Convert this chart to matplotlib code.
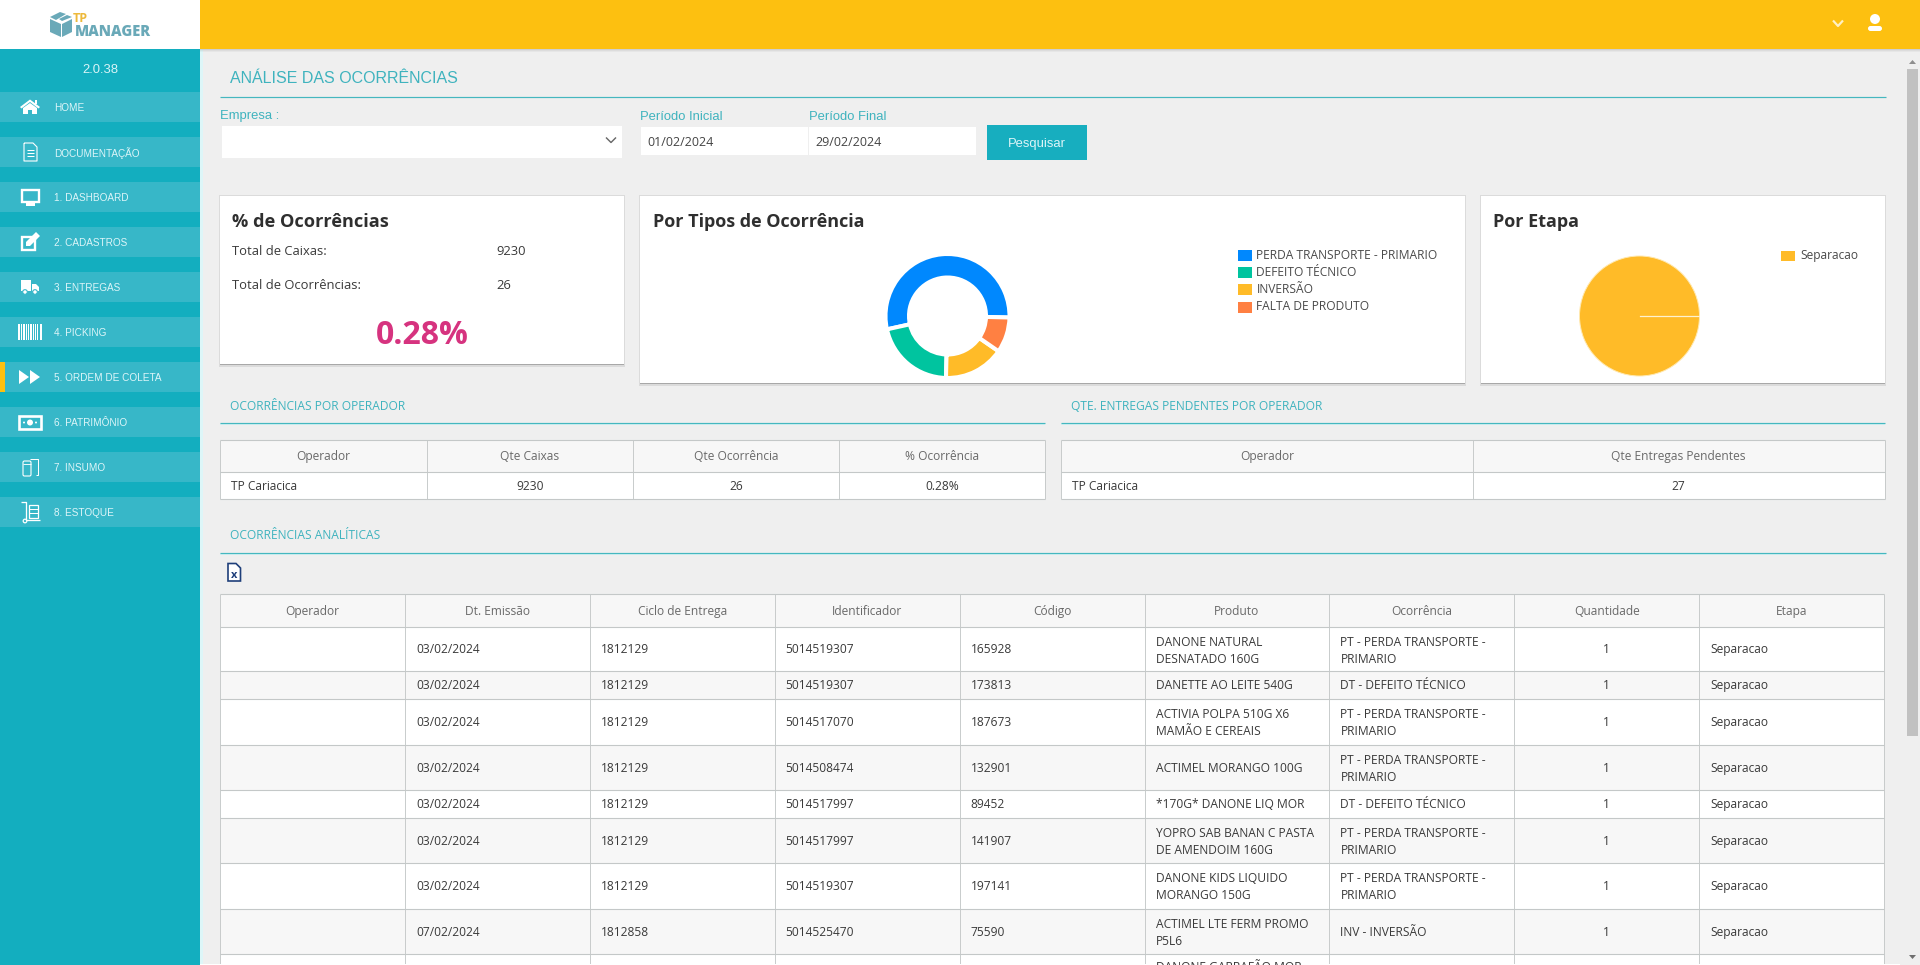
import matplotlib
matplotlib.use("Agg")
import matplotlib.pyplot as plt
from matplotlib.patches import Rectangle, Polygon, Circle, FancyBboxPatch

# ---------- data ----------
app_version = "2.0.38"
menu_labels = ["HOME", "DOCUMENTAÇÃO", "1. DASHBOARD", "2. CADASTROS", "3. ENTREGAS", "4. PICKING",
               "5. ORDEM DE COLETA", "6. PATRIMÔNIO", "7. INSUMO", "8. ESTOQUE"]
occ_types = ["PERDA TRANSPORTE - PRIMARIO", "DEFEITO TÉCNICO", "INVERSÃO", "FALTA DE PRODUTO"]
occ_values = [14, 5.5, 4.1, 2.4]
occ_colors = ["#0088FE", "#00C49F", "#FFBB28", "#FF8042"]
stage_labels = ["Separacao"]
stage_values = [26]
stage_colors = ["#FFBB28"]
total_boxes = "9230"
total_occ = "26"
pct_occ = "0.28%"
op_headers = ["Operador", "Qte Caixas", "Qte Ocorrência", "% Ocorrência"]
op_row = ["TP Cariacica", "9230", "26", "0.28%"]
pend_headers = ["Operador", "Qte Entregas Pendentes"]
pend_row = ["TP Cariacica", "27"]
an_headers = ["Operador", "Dt. Emissão", "Ciclo de Entrega", "Identificador", "Código", "Produto",
              "Ocorrência", "Quantidade", "Etapa"]
an_dates = ["03/02/2024"] * 7 + ["07/02/2024", ""]
an_cycles = ["1812129"] * 7 + ["1812858", ""]
an_ids = ["5014519307", "5014519307", "5014517070", "5014508474", "5014517997", "5014517997",
          "5014519307", "5014525470", ""]
an_codes = ["165928", "173813", "187673", "132901", "89452", "141907", "197141", "75590", ""]
an_products = ["DANONE NATURAL\nDESNATADO 160G", "DANETTE AO LEITE 540G", "ACTIVIA POLPA 510G X6\nMAMÃO E CEREAIS",
               "ACTIMEL MORANGO 100G", "*170G* DANONE LIQ MOR", "YOPRO SAB BANAN C PASTA\nDE AMENDOIM 160G",
               "DANONE KIDS LIQUIDO\nMORANGO 150G", "ACTIMEL LTE FERM PROMO\nP5L6", "DANONE GARRAFÃO MOR\n"]
PT = "PT - PERDA TRANSPORTE -\nPRIMARIO"
DT = "DT - DEFEITO TÉCNICO"
an_occ = [PT, DT, PT, PT, DT, PT, PT, "INV - INVERSÃO", ""]
an_qty = ["1"] * 8 + [""]
an_stage = ["Separacao"] * 8 + [""]

# ---------- style ----------
BG = "#EFEFEF"; YEL = "#FDC010"; SIDE = "#13AEBF"; BAND = "#37B7C8"; TEAL = "#3FB3BE"
LINE = "#C4C8C8"; HEAD = "#F7F7F7"; TXT = "#3A3A3A"; HTXT = "#6A6A6A"
OS = "Open Sans"; LS = "Liberation Sans"
px = lambda v: v * 0.72

fig = plt.figure(figsize=(19.2, 9.65), dpi=100, facecolor=BG)
ax = fig.add_axes([0, 0, 1, 1])
ax.set_xlim(0, 1920); ax.set_ylim(965, 0); ax.axis("off")

def rect(x0, y0, x1, y1, c, z=1, **k):
    ax.add_patch(Rectangle((x0, y0), x1 - x0, y1 - y0, fc=c, ec="none", zorder=z, **k))

def t(x, y, s, size, color=TXT, fam=OS, ha="left", w="normal", z=6):
    if size == 12 and fam == OS:
        y -= 0.9
    ax.text(x, y, s, fontsize=px(size), color=color, family=fam, ha=ha, va="center_baseline",
            fontweight=w, zorder=z)

def ln(xs, ys, c="white", lw=1.0, z=5, **k):
    ax.plot(xs, ys, color=c, lw=lw * 0.72, zorder=z, solid_capstyle=k.pop("cap", "butt"), **k)

def poly(pts, c="white", z=5):
    ax.add_patch(Polygon(pts, closed=True, fc=c, ec="none", zorder=z))

# ---------- frame ----------
rect(200, 49, 203, 965, "#DDF6F8", 2)
for i, a in enumerate([0.30, 0.18, 0.08]):
    rect(200, 49 + i, 1920, 50 + i, "#888888", 3, alpha=a)
rect(200, 0, 1920, 49, YEL, 4)
rect(0, 0, 200, 49, "white", 4)
rect(0, 49, 200, 965, SIDE, 4)

# logo
poly([(50, 19), (61, 24), (61, 37), (50, 32)], "#6AA9B8")
poly([(62, 24), (72, 19), (72, 32), (62, 37)], "#6AA9B8")
poly([(50, 17), (60, 12), (66, 14), (56, 20)], "#6AA9B8")
poly([(62, 21), (59, 19), (67, 15), (72, 17)], "#6AA9B8")
t(73, 17.5, "TP", 12.5, "#EDB93B", OS, w="bold", z=6)
t(75, 30, "MANAGER", 14.6, "#6AA9B8", OS, w="extra bold", z=6)

# menu
t(100, 68.5, app_version, 13, "#D9F4F7", LS, ha="center")
for i, lab in enumerate(menu_labels):
    y0 = 92 + 45 * i
    rect(0, y0, 200, y0 + 30, BAND, 4.5)
    t(54.5, y0 + 15, lab, 10, "#DDF5F8", LS)
rect(0, 362, 5, 392, YEL, 5)

def icon_home(c):
    poly([(20, c), (30, c - 7.5), (40, c), (38.5, c + 1.5), (30, c - 5), (21.5, c + 1.5)])
    poly([(23, c + 1), (30, c - 4), (37, c + 1), (37, c + 7), (32, c + 7), (32, c + 3), (28, c + 3), (28, c + 7), (23, c + 7)])
    rect(35, c - 7, 37, c - 3, "white", 5)

def icon_doc(c):
    ln([24, 33, 37, 37, 24, 24], [c - 9, c - 9, c - 5, c + 9, c + 9, c - 9], lw=1.1)
    for d in (-2, 1, 4):
        ln([27, 34], [c + d, c + d], lw=1)

def icon_monitor(c):
    ax.add_patch(Rectangle((22, c - 7.5), 16.5, 12.5, fc="none", ec="white", lw=1.7, zorder=5))
    rect(26, c + 6, 35, c + 8.5, "white", 5)

def icon_edit(c):
    ax.add_patch(Rectangle((22, c - 5), 13, 13, fc="none", ec="white", lw=1.7, zorder=5))
    poly([(26, c + 4), (26, c), (36, c - 10), (40, c - 6), (30, c + 4)], "white", 6)

def icon_truck(c):
    rect(21, c - 7, 31, c + 4, "white", 5)
    poly([(32, c - 3), (36, c - 3), (39, c), (39, c + 4), (32, c + 4)])
    for x in (25, 35):
        ax.add_patch(Circle((x, c + 5), 2.3, fc="white", ec=BAND, lw=0.8, zorder=6))

def icon_barcode(c):
    for x, w in [(18, 2), (21, 1), (23, 2), (26, 1), (28, 1), (30, 2), (33, 1), (35, 1), (37, 1), (39.5, 2)]:
        rect(x, c - 8, x + w, c + 8, "white", 5)

def icon_play(c):
    poly([(19, c - 7), (29, c), (19, c + 7)])
    poly([(30, c - 7), (40, c), (30, c + 7)])

def icon_money(c):
    ax.add_patch(Rectangle((19, c - 6), 22, 13, fc="none", ec="white", lw=1.9, zorder=5))
    ax.add_patch(Circle((30, c + 0.5), 3, fc="white", ec="none", zorder=5))
    for x in (24, 36):
        ax.add_patch(Circle((x, c + 0.5), 1, fc="white", ec="none", zorder=5))

def icon_insumo(c):
    ax.add_patch(FancyBboxPatch((23, c - 6), 8, 15, boxstyle="round,pad=0,rounding_size=1.5",
                                fc="none", ec="white", lw=0.8, zorder=5))
    ln([30, 38, 38, 36], [c - 8, c - 8, c + 8, c + 8], lw=1)
    ln([23, 31], [c - 3, c - 3], lw=0.9)

def icon_trolley(c):
    ln([21, 26, 26, 40], [c - 10, c - 10, c + 8, c + 8], lw=1.3)
    ax.add_patch(Circle((25, c + 9), 1.8, fc="none", ec="white", lw=0.9, zorder=5))
    ax.add_patch(Rectangle((29, c - 7), 9, 13, fc="none", ec="white", lw=0.9, zorder=5))
    for d in (-3, 1):
        ln([29, 38], [c + d, c + d], lw=1)

for i, f in enumerate([icon_home, icon_doc, icon_monitor, icon_edit, icon_truck, icon_barcode,
                       icon_play, icon_money, icon_insumo, icon_trolley]):
    f(107 + 45 * i)

# top right
ln([1833, 1838, 1843], [20.5, 26, 20.5], "#FFF0C4", 2.2)
ax.add_patch(Circle((1875, 19), 5, fc="white", ec="none", zorder=5))
ax.add_patch(FancyBboxPatch((1868, 26), 14, 5, boxstyle="round,pad=0,rounding_size=2.5", fc="white", ec="none", zorder=5))

# scrollbar
poly([(1909, 64), (1912.5, 60), (1916, 64)], "#8E8E8E")
rect(1907, 69, 1918, 736, "#C1C1C1", 2)
poly([(1909, 955), (1912.5, 959), (1916, 955)], "#6E6E6E")

# ---------- page heading + filters ----------
t(230.5, 77, "ANÁLISE DAS OCORRÊNCIAS", 16, TEAL, LS)
ln([220, 1886], [97, 97], "#45B7BF", 1.2, 2)
t(220.5, 115, "Empresa :", 13, TEAL, LS)
rect(222, 126, 622, 158, "white", 2)
ln([606, 611, 616], [137.5, 142.5, 137.5], "#666666", 1.4)
t(640.5, 115.5, "Período Inicial", 13, TEAL, LS)
t(809, 115.5, "Período Final", 13, TEAL, LS)
rect(640.5, 127, 808, 155, "white", 2)
rect(809, 127, 976, 155, "white", 2)
t(647, 141.5, "01/02/2024", 12.5, "#444444", OS)
t(815, 141.5, "29/02/2024", 12.5, "#444444", OS)
rect(987, 125, 1087, 160, "#17AEBF", 2)
t(1037, 142.5, "Pesquisar", 13, "#DDF5F8", LS, ha="center")

# ---------- cards ----------
def card(x0, y0, x1, y1):
    rect(x0 - 1, y0 - 1, x1 + 1, y1 + 2.5, "#C8C8C8", 1.5, alpha=0.5)
    rect(x0, y1, x1, y1 + 1, "#A8A8A8", 1.6)
    rect(x0, y0, x1, y1, "white", 2)

card(220, 196, 624, 364)
card(640, 196, 1465, 383)
card(1481, 196, 1885, 383)

t(232, 220, "% de Ocorrências", 18.2, "#2F2F2F", OS, w="bold")
t(232, 250, "Total de Caixas:", 13, TXT)
t(496, 250, total_boxes, 13, TXT)
t(232, 284, "Total de Ocorrências:", 13, TXT)
t(496, 284, total_occ, 13, TXT)
t(422, 332, pct_occ, 32, "#D6337F", OS, ha="center", w="bold")

t(653, 220.3, "Por Tipos de Ocorrência", 18, "#2F2F2F", OS, w="bold")
t(1493, 220.3, "Por Etapa", 18, "#2F2F2F", OS, w="bold")

def pixel_axes(cx, cy, r):
    a = fig.add_axes([(cx - r) / 1920, 1 - (cy + r) / 965, 2 * r / 1920, 2 * r / 965])
    a.patch.set_alpha(0)
    a.set_zorder(10)
    return a

a1 = pixel_axes(947.5, 316, 62)
a1.pie(occ_values, colors=occ_colors, startangle=-1.4, counterclock=True, radius=1,
       wedgeprops=dict(width=23.5 / 62, edgecolor="white", linewidth=2.9))
a1.set_xlim(-1, 1); a1.set_ylim(-1, 1); a1.set_aspect("equal")

a2 = pixel_axes(1639.5, 316, 60)
a2.pie(stage_values, colors=stage_colors, startangle=0, radius=1, wedgeprops=dict(edgecolor="#FFE9B0", linewidth=0.7))
a2.plot([0, 1.01], [0, 0], color="#FFF2CF", lw=0.9)
a2.set_xlim(-1, 1); a2.set_ylim(-1, 1); a2.set_aspect("equal")

for i, (lab, col) in enumerate(zip(occ_types, occ_colors)):
    y = 250 + 17.2 * i
    rect(1238, y, 1252, y + 11, col, 3)
    t(1256.5, 255 + 17 * i, lab, 12, "#4A4A4A")
rect(1781, 250.5, 1795, 261, stage_colors[0], 3)
t(1800, 255, stage_labels[0], 12, "#4A4A4A")

# ---------- tables ----------
def section(x0, x1, y_text, y_line, s, x_text=None):
    t(x0 + 10 if x_text is None else x_text, y_text, s, 12, TEAL, OS)
    ln([x0, x1], [y_line + 1.2, y_line + 1.2], "#CFF3F5", 1.5, 2)
    ln([x0, x1], [y_line, y_line], "#45B7BF", 1.2, 2.1)

def grid(cols, rows):
    for y in rows:
        ln([cols[0], cols[-1]], [y, y], LINE, 1.1, 3)
    for x in cols:
        ln([x, x], [rows[0], min(rows[-1], 965)], LINE, 0.9, 3)

def mini_table(cols, headers, row, y0=440, y1=472, y2=499):
    rect(cols[0], y0, cols[-1], y1, HEAD, 2)
    rect(cols[0], y1, cols[-1], y2, "white", 2)
    grid(cols, [y0, y1, y2])
    for i, h in enumerate(headers):
        t((cols[i] + cols[i + 1]) / 2, y0 + 16, h, 12, HTXT, OS, ha="center")
    for i, v in enumerate(row):
        if i == 0:
            t(cols[0] + 11, 486, v, 12, TXT)
        else:
            t((cols[i] + cols[i + 1]) / 2, 486, v, 12, TXT, OS, ha="center")

section(220, 1045, 405.5, 423, "OCORRÊNCIAS POR OPERADOR")
section(1061, 1884.5, 405.5, 423, "QTE. ENTREGAS PENDENTES POR OPERADOR")
mini_table([220, 426.5, 633, 839, 1045], op_headers, op_row)
mini_table([1061, 1472.7, 1884.5], pend_headers, pend_row)
section(220, 1886, 535, 552.7, "OCORRÊNCIAS ANALÍTICAS")

# excel icon
ax.add_patch(Polygon([(228, 563.5), (236, 563.5), (240.5, 568), (240.5, 581), (228, 581)], closed=True,
                     fc="white", ec="#1F3F7A", lw=1.2, zorder=5))
t(234.2, 574.5, "x", 11, "#1F3F7A", OS, ha="center", w="bold")

an_cols = [220 + 184.9 * i for i in range(10)]
an_rows = [594, 627, 671, 699, 745, 790, 818, 863, 909, 954, 1000]
rect(an_cols[0], an_rows[0], an_cols[-1], an_rows[1], HEAD, 2)
for j in range(len(an_rows) - 1):
    if j >= 1:
        rect(an_cols[0], an_rows[j], an_cols[-1], min(an_rows[j + 1], 965), "white" if j % 2 else "#F7F7F7", 2)
grid(an_cols, an_rows[:-1] + [965])
# the closing rule at the cropped edge is not in the picture; cover it
rect(200, 964.3, 1900, 966, "white", 3.5)
for i, h in enumerate(an_headers):
    t((an_cols[i] + an_cols[i + 1]) / 2, 610.5, h, 12, HTXT, OS, ha="center")

columns = [None, an_dates, an_cycles, an_ids, an_codes, an_products, an_occ, an_qty, an_stage]
for r in range(9):
    ytop, ybot = an_rows[r + 1], an_rows[r + 2]
    yc = (ytop + ybot) / 2 + 0.3
    for c in range(1, 9):
        s = columns[c][r]
        if not s:
            continue
        if c == 7:
            t((an_cols[c] + an_cols[c + 1]) / 2, yc, s, 12, TXT, OS, ha="center")
            continue
        parts = s.split("\n")
        x = an_cols[c] + 11
        if len(parts) == 1:
            t(x, yc, s, 12, TXT)
        else:
            first = ytop + (12.6 if r == 8 else 14.7)
            for k, p in enumerate(parts):
                if p:
                    t(x, first + 17 * k, p, 12, TXT)

fig.savefig("out.png", dpi=100, facecolor=BG)
